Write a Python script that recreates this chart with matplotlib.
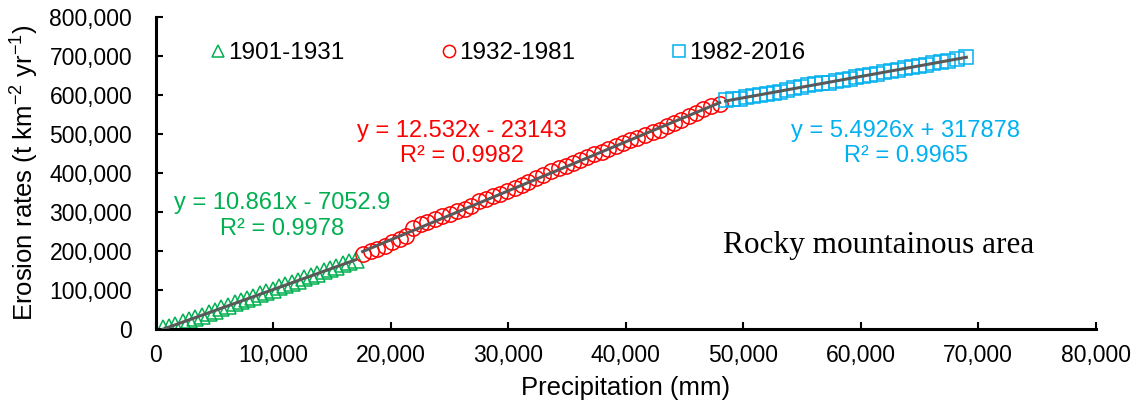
import matplotlib
matplotlib.use("Agg")
import matplotlib.pyplot as plt
import numpy as np

plt.rcParams['font.family'] = ['Liberation Sans', 'DejaVu Sans']
plt.rcParams['mathtext.fontset'] = 'custom'
plt.rcParams['mathtext.rm'] = 'Liberation Sans'
plt.rcParams['mathtext.it'] = 'Liberation Sans:italic'

# Period 1901-1931 (cumulative precipitation, cumulative erosion)
p1_x = [600, 1150, 1650, 2300, 2850, 3300, 3900, 4500, 5050, 5550, 6100, 6700, 7250, 7750,
        8300, 8900, 9400, 9950, 10500, 11000, 11600, 12100, 12650, 13200, 13700, 14300,
        14850, 15350, 15900, 16450, 17000]
p1_y = [2500, 6000, 11000, 17500, 22000, 28000, 34000, 41000, 47000, 53000, 58000, 66000,
        71000, 77000, 83000, 89000, 96000, 100000, 107000, 113000, 119000, 124000, 131000,
        136000, 142000, 148000, 155000, 160000, 166000, 171000, 176000]

# Period 1932-1981
p2_x = [17600, 18300, 18800, 19500, 20100, 20800, 21300, 21900, 22600, 23100, 23800, 24400,
        25000, 25600, 26300, 26800, 27500, 28100, 28700, 29300, 29900, 30600, 31200, 31700,
        32400, 33000, 33600, 34300, 34900, 35500, 36100, 36700, 37300, 38000, 38500, 39200,
        39800, 40400, 41000, 41600, 42300, 42900, 43500, 44100, 44700, 45400, 46000, 46600,
        47300, 48000]
p2_y = [192000, 200000, 206000, 213000, 222000, 232000, 238000, 258000, 268000, 274000,
        283000, 290000, 296000, 302000, 309000, 316000, 327000, 334000, 340000, 346000,
        353000, 362000, 370000, 378000, 388000, 396000, 404000, 412000, 419000, 426000,
        433000, 440000, 448000, 455000, 461000, 470000, 478000, 485000, 491000, 497000,
        506000, 511000, 520000, 527000, 535000, 546000, 555000, 563000, 571000, 578000]

# Period 1982-2016
p3_x = [48500, 49100, 49700, 50200, 50800, 51400, 52000, 52600, 53100, 53700, 54300, 54900,
        55500, 56100, 56700, 57300, 57900, 58500, 59100, 59600, 60200, 60800, 61400, 62000,
        62600, 63200, 63800, 64400, 65000, 65600, 66200, 66800, 67400, 68200, 69000]
p3_y = [586000, 589000, 591000, 594000, 597000, 600000, 603000, 606000, 609000, 613000,
        617000, 621000, 625000, 627000, 630000, 632000, 635000, 638000, 642000, 645000,
        648000, 651000, 655000, 658000, 662000, 665000, 668000, 672000, 675000, 678000,
        682000, 685000, 688000, 692000, 698000]

labels = ['1901-1931', '1932-1981', '1982-2016']
equations = ['y = 10.861x - 7052.9\nR² = 0.9978',
             'y = 12.532x - 23143\nR² = 0.9982',
             'y = 5.4926x + 317878\nR² = 0.9965']
colors = ['#00B050', '#FF0000', '#00B0F0']
markers = ['^', 'o', 's']

fig = plt.figure(figsize=(11.46, 4.08), dpi=100)
ax = fig.add_axes([0.136, 0.1936, 0.820, 0.7647])

series = [(p1_x, p1_y), (p2_x, p2_y), (p3_x, p3_y)]
msizes = [11, 11, 10]
handles = []
for (xs, ys), c, m, lab, ms in zip(series, colors, markers, labels, msizes):
    h, = ax.plot(xs, ys, linestyle='none', marker=m, markersize=ms,
                 markerfacecolor='none', markeredgecolor=c, markeredgewidth=1.1, label=lab)
    handles.append(h)
for xs, ys in series:
    xs_a = np.array(xs, float)
    k, b = np.polyfit(xs_a, np.array(ys, float), 1)
    xx = np.array([xs_a.min(), xs_a.max()])
    ax.plot(xx, k * xx + b, color='#595959', linewidth=2.2, zorder=3)

ax.set_xlim(0, 80000)
ax.set_ylim(0, 800000)
ax.set_xticks(np.arange(0, 80001, 10000))
ax.set_yticks(np.arange(0, 800001, 100000))
ax.xaxis.set_major_formatter(matplotlib.ticker.FuncFormatter(lambda v, p: f'{int(v):,}'))
ax.yaxis.set_major_formatter(matplotlib.ticker.FuncFormatter(lambda v, p: f'{int(v):,}'))
ax.tick_params(direction='in', labelsize=16.5, width=1.5, length=5)
ax.tick_params(axis='x', pad=11)
ax.tick_params(axis='y', pad=17)
for s in ['top', 'right']:
    ax.spines[s].set_visible(False)
for s in ['left', 'bottom']:
    ax.spines[s].set_linewidth(2.2)
ax.set_xlabel('Precipitation (mm)', fontsize=18.5, labelpad=6)
ax.set_ylabel('Erosion rates (t km$^{-2}$ yr$^{-1}$)', fontsize=18.5, labelpad=6)

eq_pos = [(10720, 290000), (26040, 476000), (63830, 476000)]
for (ex, ey), txt, c in zip(eq_pos, equations, colors):
    ax.text(ex, ey, txt, color=c, fontsize=17, ha='center', va='center', linespacing=1.2)

ax.text(61500, 215000, 'Rocky mountainous area', fontsize=22.5, ha='center', va='center',
        family='Liberation Serif')

ax.legend(handles=handles, loc='upper left', bbox_to_anchor=(0.033, 0.99), ncol=3,
          frameon=False, fontsize=17.5, handletextpad=0.0, columnspacing=3.9,
          handlelength=0.8, markerscale=0.8)

fig.savefig('out.png', dpi=100)
